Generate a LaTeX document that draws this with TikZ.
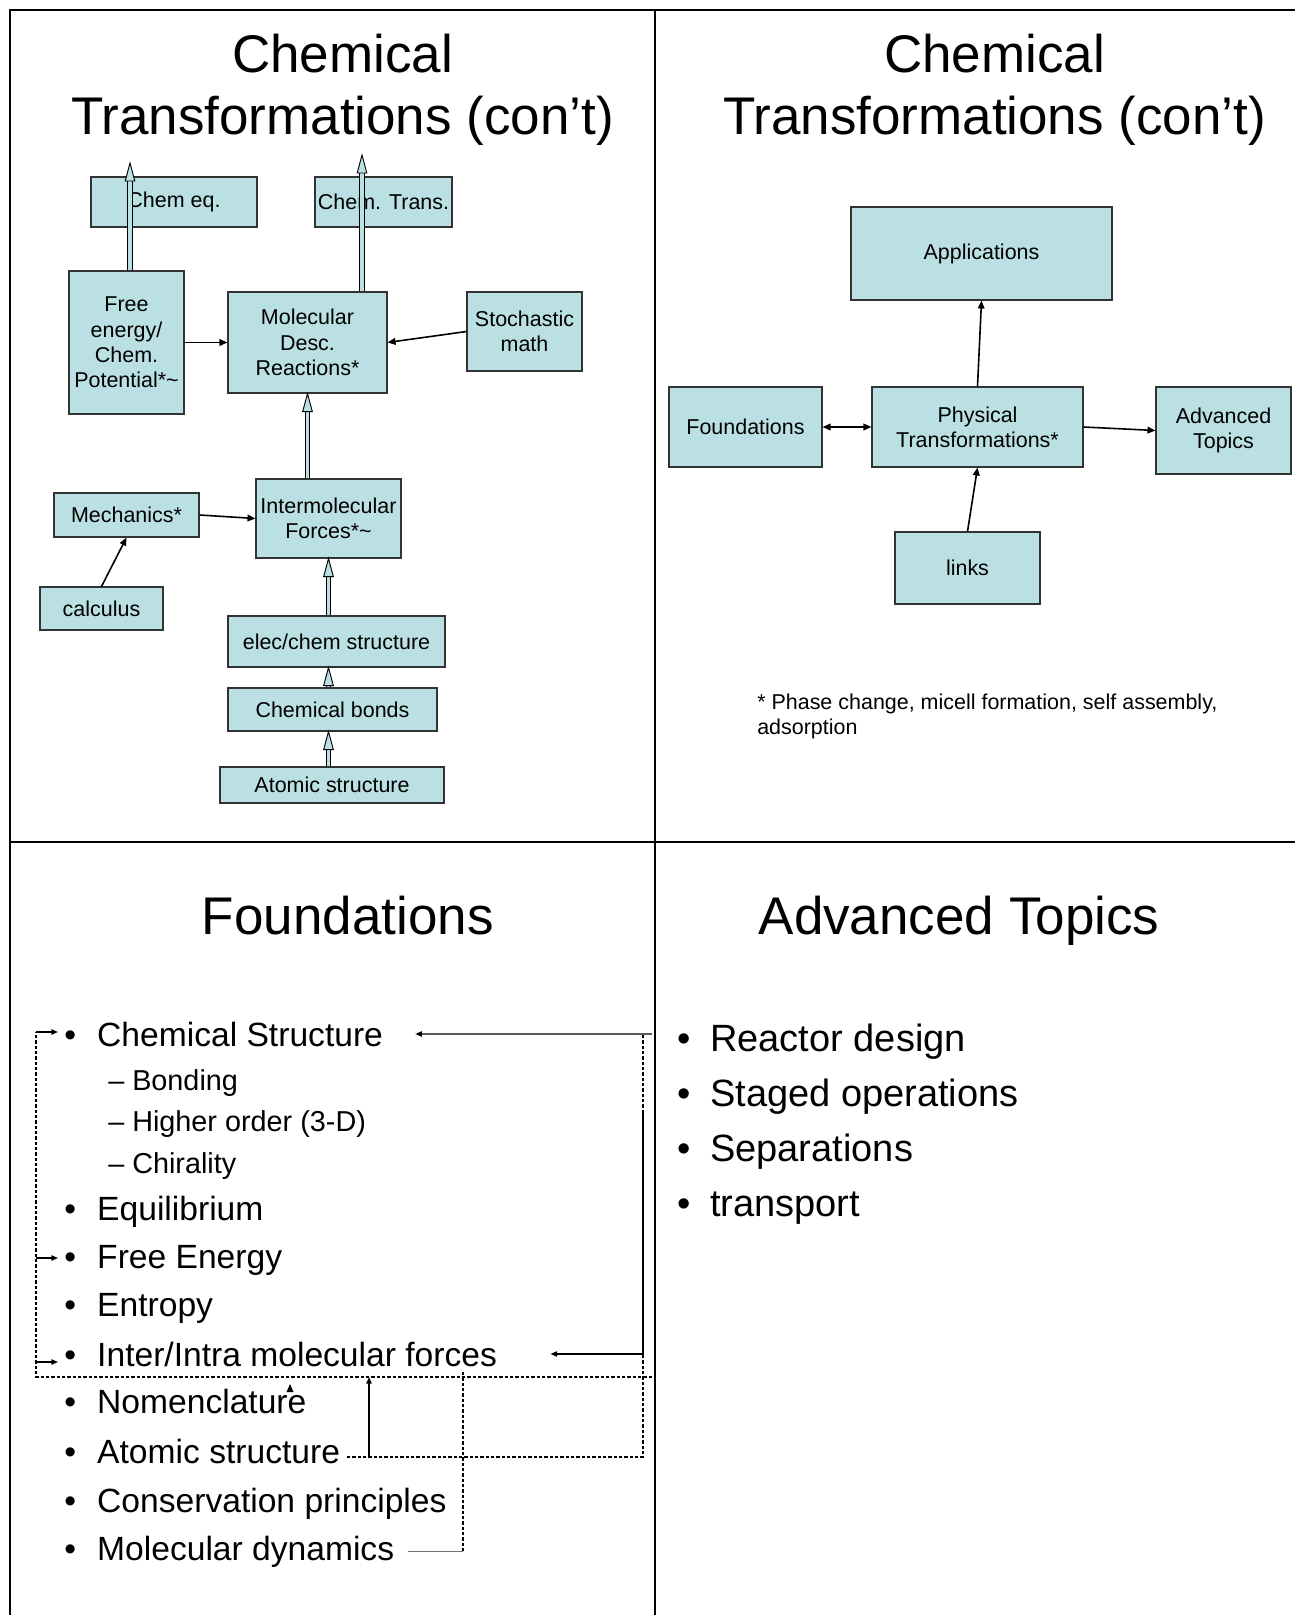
\documentclass[tikz,border=0pt]{standalone}
\usepackage{fontspec}
\setmainfont{Liberation Sans}
\usetikzlibrary{arrows.meta}
\definecolor{boxfill}{RGB}{187,224,227}
\newcommand\boxfont{\fontsize{16.1}{19}\selectfont}
\newcommand\lbul{\llap{•\hspace{15.8pt}}}
\newcommand\rbul{\llap{•\hspace{14.5pt}}}
\newcommand\hollowarrow[2]{%
  \draw[line width=4pt] (#1) -- ([yshift=-12pt]#2);
  \draw[line width=2.3pt,boxfill] (#1) -- ([yshift=-12pt]#2);
  \filldraw[fill=boxfill,line width=0.7pt] (#2) -- ([shift={(-3.6pt,-13.5pt)}]#2)
    -- ([shift={(3.6pt,-13.5pt)}]#2) -- cycle;}
\begin{document}
\begin{tikzpicture}
  [x=0.75pt,y=-0.75pt,>={Triangle[length=6pt,width=5pt]},
   box/.style={draw=black!80,line width=0.8pt,fill=boxfill,align=center,inner sep=1pt,font=\boxfont},
   sz/.style 2 args={minimum width=#1*0.75pt,minimum height=#2*0.75pt},
   blk/.style={->,line width=1.2pt},
   ttl/.style={anchor=base,inner sep=0,font=\fontsize{39.75}{47}\selectfont},
   itm/.style={anchor=base west,inner sep=0,font=\fontsize{25.2}{30}\selectfont},
   sub/.style={anchor=base west,inner sep=0,font=\fontsize{21.6}{26}\selectfont},
   big/.style={anchor=base west,inner sep=0,font=\fontsize{28.5}{34}\selectfont},
   cn/.style={line width=1pt},
   cna/.style={cn,-{Triangle[length=5pt,width=4pt]}},
   dsh/.style={line width=0.9pt,dash pattern=on 2.5pt off 1.5pt},
   cell/.style={line width=1.5pt}]
  \useasboundingbox (0,0) rectangle (1295,1615);
  \draw[cell] (10,1615) -- (10,10) -- (1295,10);
  \draw[cell] (655,10) -- (655,1615);
  \draw[cell] (10,842) -- (1295,842);

  \node[ttl] (t1a) at (342.5,72.6) {Chemical};
  \node[ttl] (t1b) at (342.5,134.4) {Transformations (con’t)};
  \node[ttl] (t2a) at (994.5,72.6) {Chemical};
  \node[ttl] (t2b) at (994.5,134.4) {Transformations (con’t)};
  \node[ttl] (t3) at (347.7,934.8) {Foundations};
  \node[ttl] (t4) at (959,934.8) {Advanced Topics};

  \node[box,sz={166}{50}] (cheq) at (174,202) {Chem eq.};
  \node[box,sz={137}{50}] (chtr) at (383.5,202) {Chem. Trans.};
  \node[box,sz={115}{143}] (free) at (126.5,342.5) {Free\\energy/\\Chem.\\Potential*\textasciitilde};
  \node[box,sz={159}{101}] (mol) at (307.5,342.5) {Molecular\\Desc.\\Reactions*};
  \node[box,sz={115}{79}] (stoch) at (524.5,331.5) {Stochastic\\math};
  \node[box,sz={145}{44}] (mech) at (126.5,515) {Mechanics*};
  \node[box,sz={145}{79}] (inter) at (328.5,518.5) {Intermolecular\\Forces*\textasciitilde};
  \node[box,sz={123}{43}] (calc) at (101.5,608.5) {calculus};
  \node[box,sz={217}{51}] (elec) at (336.5,641.5) {elec/chem structure};
  \node[box,sz={209}{43}] (bonds) at (332.5,709.5) {Chemical bonds};
  \node[box,sz={224}{36}] (atom) at (332,785) {Atomic structure};
  \coordinate (eqtip) at (130,163);
  \coordinate (trtip) at (362,155);

  \foreach \from/\to in {eqtip |- free.north/eqtip,trtip |- mol.north/trtip,
    mol.south |- inter.north/mol.south,inter.south |- elec.north/inter.south,
    inter.south |- bonds.north/inter.south |- elec.south,
    inter.south |- atom.north/inter.south |- bonds.south}
    \hollowarrow{\from}{\to};

  \node[box,sz={261}{93}] (app) at (981.5,253.5) {Applications};
  \node[box,sz={153}{80}] (found) at (745.5,427) {Foundations};
  \node[box,sz={211}{80}] (phys) at (977.5,427) {Physical\\Transformations*};
  \node[box,sz={135}{87}] (adv) at (1223.5,430.5) {Advanced\\Topics};
  \node[box,sz={145}{72}] (links) at (967.5,568) {links};
  \node[anchor=west,align=left,inner sep=0,font=\boxfont] (note) at (757,716.7)
    {* Phase change, micell formation, self assembly,\\adsorption};

  \foreach \from/\to in {free.east/mol.west,stoch.west/mol.east,mech.east/inter.west,
    calc.north/mech.south,phys.north/app.south,phys.east/adv.west,links.north/phys.south}
    \draw[blk] (\from) -- (\to);
  \draw[blk,<->] (found.east) -- (phys.west);

  \node[itm] (cs) at (97,1046) {\lbul Chemical Structure};
  \node[sub] (bnd) at (108,1090) {– Bonding};
  \node[sub] (hio) at (108,1131) {– Higher order (3-D)};
  \node[sub] (chi) at (108,1173) {– Chirality};
  \node[itm] (equ) at (97,1220) {\lbul Equilibrium};
  \node[itm] (fe) at (97,1268) {\lbul Free Energy};
  \node[itm] (ent) at (97,1316) {\lbul Entropy};
  \node[itm] (iim) at (97,1366) {\lbul Inter/Intra molecular forces};
  \node[itm] (nom) at (97,1413) {\lbul Nomenclature};
  \node[itm] (atm) at (97,1463) {\lbul Atomic structure};
  \node[itm] (cons) at (97,1512) {\lbul Conservation principles};
  \node[itm] (md) at (97,1560) {\lbul Molecular dynamics};

  \node[big] (rxd) at (710,1051) {\rbul Reactor design};
  \node[big] (stg) at (710,1106) {\rbul Staged operations};
  \node[big] (sep) at (710,1161) {\rbul Separations};
  \node[big] (trn) at (710,1216) {\rbul transport};

  \coordinate (ra) at (652,1034);
  \coordinate (rc) at (643,1110);
  \coordinate (rd) at (643,1457);
  \coordinate (la) at (652,1377);
  \coordinate (lb) at (36,1377);
  \coordinate (ua) at (369,1457);
  \coordinate (mdc) at (463,1370);
  \coordinate (nt) at (290,1384);
  \coordinate (lt) at ([shift={(-39,-14)}]cs.base west);

  \draw[dsh] ([xshift=5pt]atm.east |- rd) -- (rd) -- (rd |- ra);
  \draw[cna] (ra) -- ([xshift=24pt]cs.east);
  \draw[cna] (rc) -- (rc |- iim.east) -- ([xshift=40pt]iim.east);
  \draw[cna] (ua) -- (ua |- la);
  \draw[dsh] (la) -- (lb) -- (lb |- lt);
  \foreach \nm/\dy in {cs/-14,fe/-10,iim/-4}{
    \coordinate (e) at ([shift={(-39,\dy)}]\nm.base west);
    \draw[cna] (lb |- e) -- (e);}
  \draw[black!55,line width=0.8pt] ([xshift=10pt]md.east) -- (mdc |- md.east);
  \draw[dsh] (mdc |- md.east) -- (mdc);
  \fill ([shift={(-3.5,8)}]nt) -- (nt) -- ([shift={(3.5,8)}]nt) -- cycle;
\end{tikzpicture}
\end{document}
